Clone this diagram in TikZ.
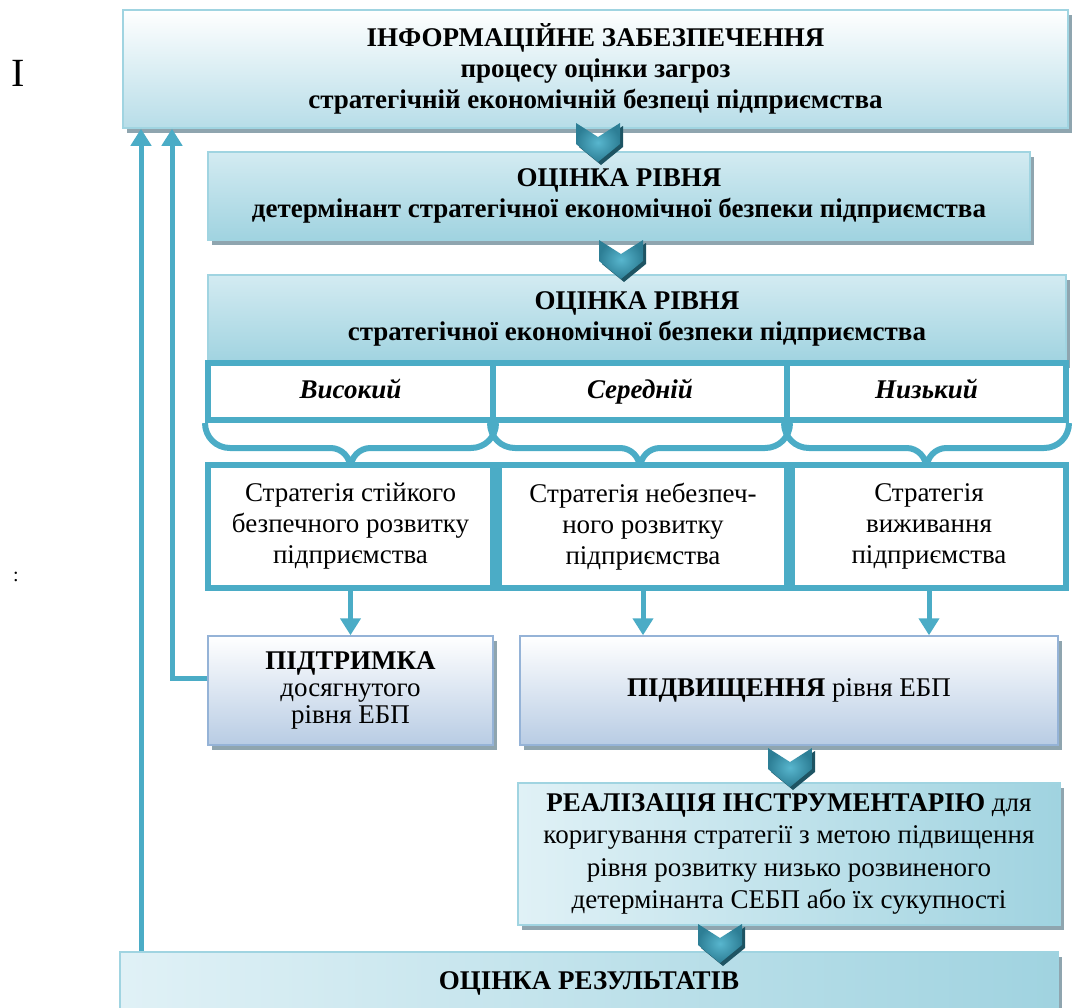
\documentclass[tikz,border=0pt]{standalone}
\usepackage{fontspec}
\setmainfont{Liberation Serif}
\usepackage{tikz}
\usetikzlibrary{arrows.meta,calc,shadows}
\definecolor{lineblue}{RGB}{75,172,198}
\definecolor{edgeblue}{RGB}{160,212,225}
\definecolor{paleblue}{RGB}{183,221,232}
\definecolor{midblue}{RGB}{160,211,224}
\definecolor{iceblue}{RGB}{224,241,246}
\definecolor{steeledge}{RGB}{149,179,215}
\definecolor{steelblue}{RGB}{184,204,228}
\definecolor{shadowgrey}{RGB}{143,165,175}
\definecolor{chevdark}{RGB}{30,84,99}
\definecolor{chevmid}{RGB}{45,126,149}
\definecolor{chevlight}{RGB}{88,182,206}
\def\chevron(#1){
	\begin{scope}[shift={(#1)}]
		\fill[chevdark] (-19,-16) -- (3,-2) -- (25,-16) -- (25,5) -- (3,23) -- (-19,5) -- cycle;
		\shade[inner color=chevlight, outer color=chevmid] (-22,-19) -- (0,-5) -- (22,-19) -- (22,2) -- (0,20) -- (-22,2) -- cycle;
	\end{scope}}
\def\levelbrace(#1){\draw[bracket] (#1.south west) .. controls ($(#1.south west)+(0,14)$) and ($(#1.south west)+(11,25)$) .. ($(#1.south west)+(25,25)$) -- ($(#1.south)+(-20,25)$) .. controls ($(#1.south)+(-9,25)$) and ($(#1.south)+(0,34)$) .. ($(#1.south)+(0,46)$) .. controls ($(#1.south)+(0,34)$) and ($(#1.south)+(9,25)$) .. ($(#1.south)+(20,25)$) -- ($(#1.south east)+(-25,25)$) .. controls ($(#1.south east)+(-11,25)$) and ($(#1.south east)+(0,14)$) .. (#1.south east);}
\tikzset{
	bigtext/.style={font=\fontsize{27}{31}\selectfont, align=center, inner sep=0pt},
	boxshadow/.style={drop shadow={shadow xshift=4pt, shadow yshift=-5pt, fill=shadowgrey, opacity=1}},
	infobox/.style={bigtext, draw=edgeblue, line width=1.5pt, top color=white, bottom color=paleblue, boxshadow},
	cyanbox/.style={bigtext, draw=edgeblue, line width=1.5pt, top color=iceblue!80!midblue, middle color=iceblue, bottom color=midblue, boxshadow},
	sidebox/.style={bigtext, draw=edgeblue, line width=1.5pt, left color=iceblue, right color=midblue, boxshadow},
	steelbox/.style={bigtext, draw=steeledge, line width=1.5pt, top color=white, bottom color=steelblue, boxshadow},
	levelbox/.style={draw=lineblue, line width=6pt, fill=white, inner sep=0pt, text height=19pt, text depth=6pt, font=\fontsize{27}{31}\selectfont\bfseries\itshape},
	stratbox/.style={bigtext, draw=lineblue, line width=6pt, fill=white},
	bracket/.style={lineblue, line width=6pt},
	flow/.style={lineblue, line width=5pt, -{Triangle[width=20pt,length=17pt]}}
}

\begin{document}
\begin{tikzpicture}[x=1pt, y=-1pt]
	%%%%% START %%%%%
	
	\useasboundingbox (0,0) rectangle (1073,1007);
	
	\node[font=\fontsize{40}{40}\selectfont] (romanone) at (18,73) {I};
	\node[font=\fontsize{20}{20}\selectfont] (colonmark) at (16,577) {:};
	
	\node[infobox, minimum width=945pt, minimum height=118pt] (info) at (595.5,69) {\textbf{ІНФОРМАЦІЙНЕ ЗАБЕЗПЕЧЕННЯ}\\\textbf{процесу оцінки загроз}\\\textbf{стратегічній економічній безпеці підприємства}};
	\node[cyanbox, minimum width=822pt, minimum height=88pt] (determ) at (619,196) {\textbf{ОЦІНКА РІВНЯ}\\\textbf{детермінант стратегічної економічної безпеки підприємства}};
	\node[cyanbox, minimum width=858pt, minimum height=88pt] (levelhead) at (637,319) {\textbf{ОЦІНКА РІВНЯ}\\\textbf{стратегічної економічної безпеки підприємства}};
	
	\node[levelbox, minimum width=285pt, minimum height=57pt] (high) at (350.5,391.5) {Високий};
	\node[levelbox, minimum width=294pt, minimum height=57pt] (mid) at (640,391.5) {Середній};
	\node[levelbox, minimum width=279pt, minimum height=57pt] (low) at (926.5,391.5) {Низький};
	
	\levelbrace(high)
	\levelbrace(mid)
	\levelbrace(low)
	
	\node[stratbox, minimum width=285pt, minimum height=123pt] (sthigh) at (350.5,526.5) {Стратегія стійкого\\безпечного розвитку\\підприємства};
	\node[stratbox, minimum width=288pt, minimum height=123pt] (stmid) at (643,526.5) {Стратегія небезпеч-\\ного розвитку\\підприємства};
	\node[stratbox, minimum width=274pt, minimum height=123pt] (stlow) at (929,526.5) {Стратегія\\виживання\\підприємства};
	
	\node[steelbox, minimum width=285pt, minimum height=109pt, font=\fontsize{27}{27}\selectfont] (keep) at (350.5,690.5) {\textbf{ПІДТРИМКА}\\досягнутого\\рівня ЕБП};
	\node[steelbox, minimum width=538pt, minimum height=109pt] (raise) at (789,690.5) {\textbf{ПІДВИЩЕННЯ} рівня ЕБП};
	\node[sidebox, minimum width=542pt, minimum height=142pt, font=\fontsize{27}{32.5}\selectfont] (tools) at (789,854) {\textbf{РЕАЛІЗАЦІЯ ІНСТРУМЕНТАРІЮ} для\\коригування стратегії з метою підвищення\\рівня розвитку низько розвиненого\\детермінанта СЕБП або їх сукупності};
	\node[sidebox, minimum width=938pt, minimum height=63pt] (result) at (589,983.5) {\textbf{ОЦІНКА РЕЗУЛЬТАТІВ}};
	
	\draw[flow] (sthigh.south) -- (keep.north);
	\draw[flow] (stmid.south) -- (stmid.south |- raise.north);
	\draw[flow] (stlow.south) -- (stlow.south |- raise.north);
	
	\coordinate (backA) at (141,0);
	\coordinate (backB) at (172,0);
	\draw[flow] (backA |- result.north) -- (backA |- info.south);
	\draw[flow] ($(keep.west)+(0,-12)$) -| (backB |- info.south);
	
	\chevron(598,142)
	\chevron(621,259)
	\chevron(790,767)
	\chevron(720,943)
	
	%%%%% END %%%%%
\end{tikzpicture}
\end{document}
